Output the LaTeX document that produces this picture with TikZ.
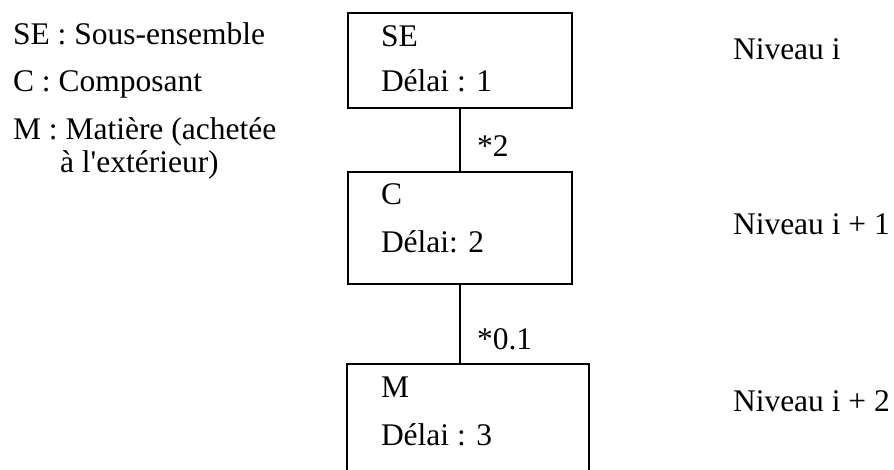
\documentclass[tikz,border=0pt]{standalone}
\usepackage{fontspec}
\setmainfont{Liberation Serif}[Ligatures=TeXOff]
\begin{document}
\begin{tikzpicture}[x=1pt,y=-1pt,
  box/.style={draw, line width=1.8pt, rectangle, inner sep=0pt, outer sep=0pt, anchor=north west},
  txt/.style={anchor=base west, inner sep=0pt, outer sep=0pt, font=\fontsize{31.5}{37}\selectfont},
  link/.style={line width=1.8pt}]
\useasboundingbox (0,0) rectangle (894,470);
\clip (0,0) rectangle (894,470);
% legend
\node[txt] (l1) at (13,45) {SE : Sous-ensemble};
\node[txt] (l2) at (13,92) {C : Composant};
\node[txt] (l3) at (13,140) {M : Matière (achetée};
\node[txt] (l4) at (60,173) {à l'extérieur)};
% boxes
\node[box, minimum width=224pt, minimum height=95pt] (se) at (348,13) {};
\node[box, minimum width=224pt, minimum height=112pt] (c) at (348,172) {};
\node[box, minimum width=242pt, minimum height=140pt] (m) at (347,364) {};
% box texts
\node[txt] (se1) at (381,47) {SE};
\node[txt] (se2) at (381,92) {Délai : 1};
\node[txt] (c1) at (381,205) {C};
\node[txt] (c2) at (381,253) {Délai: 2};
\node[txt] (m1) at (381,397) {M};
\node[txt] (m2) at (381,445) {Délai : 3};
% connectors
\draw[link] (se.south) -- (c.north);
\draw[link] (c.south) -- (c.south |- m.north);
\node[txt] (q1) at (477,157) {*2};
\node[txt] (q2) at (477,349) {*0.1};
% levels
\node[txt] (n0) at (733,60) {Niveau i};
\node[txt] (n1) at (733,235) {Niveau i + 1};
\node[txt] (n2) at (733,411) {Niveau i + 2};
\end{tikzpicture}
\end{document}
